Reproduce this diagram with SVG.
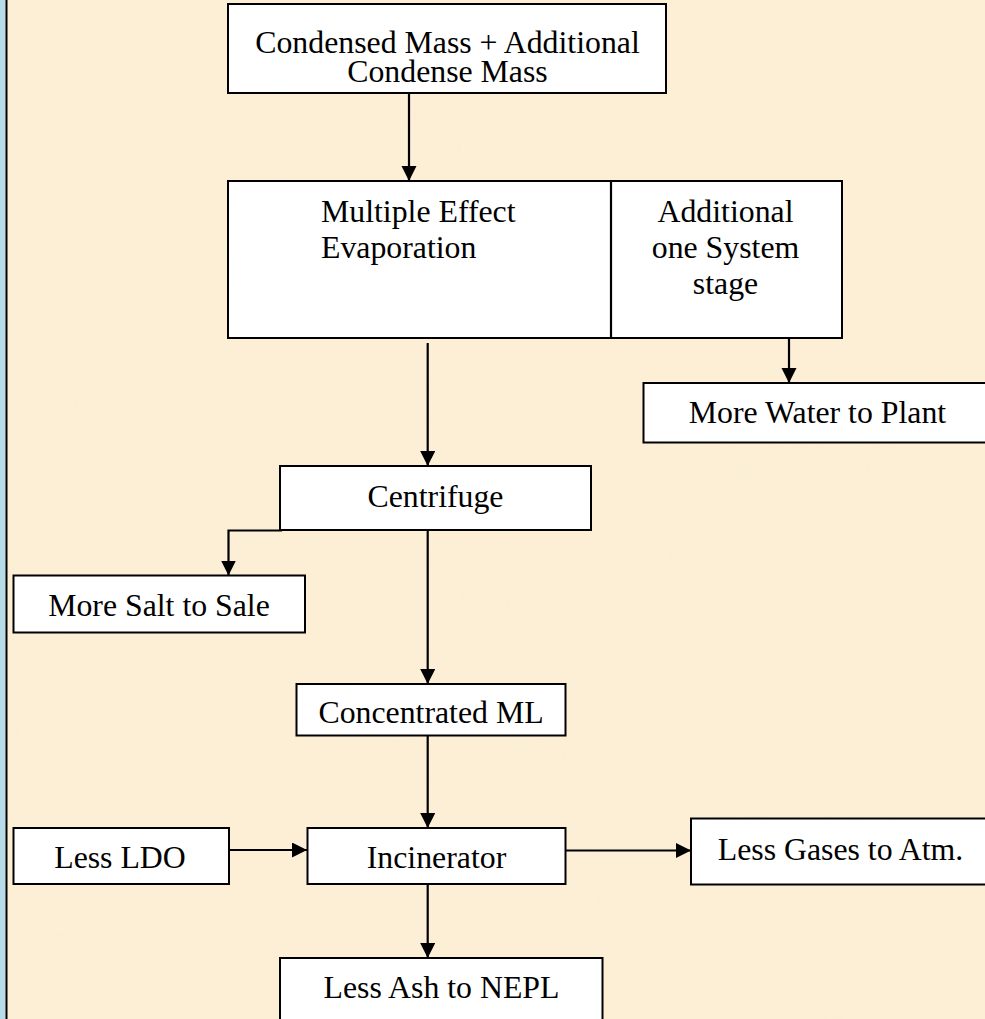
<svg xmlns="http://www.w3.org/2000/svg" width="985" height="1019" viewBox="0 0 985 1019">
  <style>
    .box { fill: #ffffff; stroke: #000000; stroke-width: 2; }
    .edge { fill: none; stroke: #000000; stroke-width: 2.2; }
    .lbl { font-family: "Liberation Serif", "Times New Roman", serif; font-size: 31.8px; fill: #000000; }
    .mid { text-anchor: middle; }
  </style>
  <defs>
    <marker id="arrow" markerUnits="userSpaceOnUse" markerWidth="17" markerHeight="16" refX="15" refY="7.5" orient="auto">
      <path d="M0,0 L15,7.5 L0,15 Z" fill="#000000"/>
    </marker>
    <filter id="grain" x="0" y="0" width="100%" height="100%">
      <feTurbulence type="fractalNoise" baseFrequency="0.012" numOctaves="3" seed="7" result="n"/>
      <feColorMatrix in="n" type="matrix" values="0 0 0 0 0.95  0 0 0 0 0.86  0 0 0 0 0.68  0 0 0 1.1 -0.45"/>
    </filter>
  </defs>

  <!-- parchment background with page border -->
  <rect x="0" y="0" width="985" height="1019" fill="#fcefd6"/>
  <rect x="0" y="0" width="985" height="1019" filter="url(#grain)" opacity="0.2"/>
  <rect x="0" y="0" width="5.5" height="1019" fill="#b5dce8"/>
  <rect x="5.5" y="0" width="2" height="1019" fill="#000000"/>

  <g id="connectors">
    <path class="edge" d="M409,93 V181" marker-end="url(#arrow)"/>
    <path class="edge" d="M427.7,343 V466" marker-end="url(#arrow)"/>
    <path class="edge" d="M789,338 V383" marker-end="url(#arrow)"/>
    <path class="edge" d="M281,488 V530.5 H228.5 V575.5" marker-end="url(#arrow)"/>
    <path class="edge" d="M427.7,530 V684" marker-end="url(#arrow)"/>
    <path class="edge" d="M427.7,735.5 V828" marker-end="url(#arrow)"/>
    <path class="edge" d="M229,850 H307" marker-end="url(#arrow)"/>
    <path class="edge" d="M565.5,850.5 H691" marker-end="url(#arrow)"/>
    <path class="edge" d="M427.7,884 V958" marker-end="url(#arrow)"/>
  </g>

  <g id="node-condensed-mass">
    <rect class="box" x="228" y="4" width="438" height="89"/>
    <text class="lbl mid" x="447.5" y="53">Condensed Mass + Additional</text>
    <text class="lbl mid" x="447.5" y="81.5">Condense Mass</text>
  </g>

  <g id="node-evaporation">
    <rect class="box" x="228" y="181" width="614" height="157"/>
    <line class="edge" x1="611" y1="181" x2="611" y2="338"/>
    <text class="lbl" x="321" y="221.7">Multiple Effect</text>
    <text class="lbl" x="321" y="258">Evaporation</text>
  </g>

  <g id="node-additional-stage">
    <text class="lbl mid" x="725.5" y="221.7">Additional</text>
    <text class="lbl mid" x="725.5" y="257.5">one System</text>
    <text class="lbl mid" x="725.5" y="293.5">stage</text>
  </g>

  <g id="node-water">
    <rect class="box" x="643.5" y="383" width="350" height="59.5"/>
    <text class="lbl mid" x="817.5" y="423">More Water to Plant</text>
  </g>

  <g id="node-centrifuge">
    <rect class="box" x="280" y="466" width="311" height="64"/>
    <text class="lbl mid" x="435.5" y="506.5">Centrifuge</text>
  </g>

  <g id="node-salt">
    <rect class="box" x="13.5" y="575.5" width="291.5" height="57"/>
    <text class="lbl mid" x="159" y="615.5">More Salt to Sale</text>
  </g>

  <g id="node-concentrated-ml">
    <rect class="box" x="296.5" y="684" width="269" height="51.5"/>
    <text class="lbl mid" x="431" y="723">Concentrated ML</text>
  </g>

  <g id="node-ldo">
    <rect class="box" x="13.5" y="828" width="215.5" height="56"/>
    <text class="lbl mid" x="120" y="868">Less LDO</text>
  </g>

  <g id="node-incinerator">
    <rect class="box" x="307.5" y="828" width="258" height="56"/>
    <text class="lbl mid" x="436.5" y="867.5">Incinerator</text>
  </g>

  <g id="node-gases">
    <rect class="box" x="691" y="818.5" width="300" height="66"/>
    <text class="lbl mid" x="840.5" y="860">Less Gases to Atm.</text>
  </g>

  <g id="node-ash">
    <rect class="box" x="280" y="958" width="322.5" height="70"/>
    <text class="lbl mid" x="441.5" y="998">Less Ash to NEPL</text>
  </g>
</svg>
